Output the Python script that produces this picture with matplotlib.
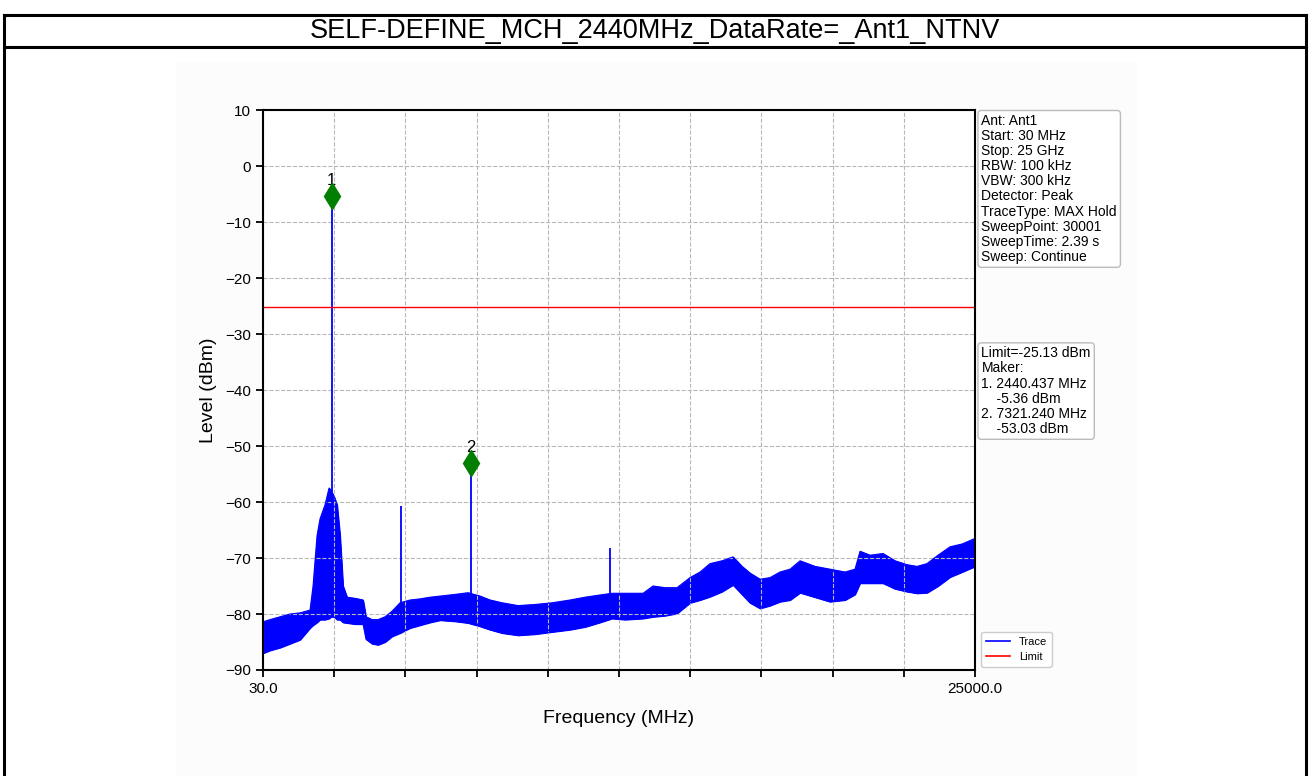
import matplotlib.pyplot as plt
from matplotlib.lines import Line2D
from matplotlib.patches import Rectangle
import numpy as np

plt.rcParams['font.family'] = ['Liberation Sans', 'DejaVu Sans']

# Colors used in the plot
BLUE = '#0000ff'
RED = '#ff0000'
GREEN = '#007f00'

START_MHZ = 30.0
STOP_MHZ = 25000.0
LIMIT_DBM = -25.13

TITLE = "SELF-DEFINE_MCH_2440MHz_DataRate=_Ant1_NTNV"

# Noise floor envelope of the max-hold trace (MHz, dBm)
freq_mhz = [30, 275, 626, 977, 1328, 1678, 1784, 1924, 2029, 2204, 2345, 2415,
            2520, 2625, 2730, 2836, 2976, 3256, 3537, 3642, 3853, 4063, 4309,
            4554, 4835, 5185, 5536, 5887, 6237, 6763, 7219, 7640, 7991, 8412,
            8973, 9569, 10165, 10796, 11323, 11849, 12269, 12725, 13357, 13707,
            14128, 14549, 15005, 15356, 15706, 16127, 16513, 16829, 17109, 17460,
            17811, 18161, 18512, 18863, 19389, 19915, 20441, 20791, 20967, 21318,
            21773, 22194, 22615, 22966, 23316, 23702, 24123, 24544, 25000]
floor_top = [-81.4, -81.0, -80.5, -80.0, -79.8, -79.3, -75.0, -66.0, -63.0, -60.5,
             -57.5, -58.0, -59.0, -60.5, -66.0, -75.0, -77.0, -77.2, -77.5, -80.5,
             -81.0, -81.0, -80.5, -79.5, -78.0, -77.5, -77.3, -77.0, -76.8, -76.5,
             -76.2, -76.8, -77.5, -78.0, -78.5, -78.3, -78.0, -77.5, -77.0, -76.6,
             -76.3, -76.3, -76.3, -75.0, -75.3, -75.3, -73.5, -72.5, -71.0, -70.5,
             -69.8, -71.5, -72.7, -73.8, -73.5, -72.5, -72.0, -70.5, -71.5, -72.0,
             -72.5, -72.0, -68.8, -69.5, -69.2, -70.5, -71.2, -71.5, -71.0, -69.5,
             -68.0, -67.5, -66.5]
floor_bottom = [-87.0, -86.5, -86.0, -85.3, -84.6, -82.5, -82.0, -81.5, -81.0, -81.0,
                -80.8, -80.5, -80.5, -81.0, -81.0, -81.5, -81.6, -81.8, -81.8, -84.5,
                -85.3, -85.5, -85.0, -84.0, -83.4, -82.5, -82.0, -81.5, -81.1, -81.3,
                -81.6, -82.2, -82.8, -83.4, -83.8, -83.6, -83.2, -82.8, -82.3, -81.5,
                -80.8, -81.0, -80.8, -80.5, -80.3, -79.9, -78.0, -77.5, -76.9, -76.0,
                -74.8, -76.5, -78.0, -79.0, -78.5, -77.8, -77.5, -76.2, -77.0, -77.8,
                -77.5, -76.5, -74.5, -74.5, -74.5, -75.5, -76.0, -76.3, -76.2, -75.0,
                -73.4, -72.5, -71.5]

# Discrete emissions rising out of the floor
spur_freq = [2440.437, 4880.0, 7321.240, 12200.0]
spur_base = [-80.5, -83.2, -81.6, -80.8]
spur_level = [-5.36, -60.8, -53.03, -68.3]

# Peak markers
marker_freq = [2440.437, 7321.240]
marker_level = [-5.36, -53.03]

info_lines = ["Ant: Ant1", "Start: 30 MHz", "Stop: 25 GHz", "RBW: 100 kHz",
              "VBW: 300 kHz", "Detector: Peak", "TraceType: MAX Hold",
              "SweepPoint: 30001", "SweepTime: 2.39 s", "Sweep: Continue"]

fig = plt.figure(figsize=(13.1, 7.76), dpi=100)

# faint backdrop of the embedded plot image
fig.add_artist(Rectangle((0.134, 0.0), 0.734, 0.92, transform=fig.transFigure,
                         facecolor='#fcfcfc', edgecolor='none', zorder=-10))

ax = fig.add_axes([0.2008, 0.1366, 0.5435, 0.7216])

# Trace: noise band plus spurs
ax.fill_between(freq_mhz, floor_bottom, floor_top, color=BLUE, linewidth=0.8)
ax.plot(freq_mhz, floor_top, color=BLUE, linewidth=0.8)
ax.plot(freq_mhz, floor_bottom, color=BLUE, linewidth=0.8)
ax.vlines(spur_freq, spur_base, spur_level, color=BLUE, linewidth=1.3)

# Limit line
ax.axhline(LIMIT_DBM, color=RED, linewidth=1.0)

# Markers
for i, (f, lvl) in enumerate(zip(marker_freq, marker_level)):
    ax.plot(f, lvl, marker='d', color=GREEN, markersize=13, zorder=5)
    ax.annotate(str(i + 1), (f, lvl), xytext=(0, 6), textcoords='offset points',
                ha='center', va='bottom', fontsize=12)

ax.set_xlim(START_MHZ, STOP_MHZ)
ax.set_ylim(-90, 10)
x_ticks = np.linspace(START_MHZ, STOP_MHZ, 11)
x_labels = [''] * 11
x_labels[0] = '30.0'
x_labels[-1] = '25000.0'
ax.set_xticks(x_ticks)
ax.set_xticklabels(x_labels)
ax.set_yticks(np.arange(-90, 11, 10))
ax.tick_params(labelsize=11, width=1.3, length=5)
for spine in ax.spines.values():
    spine.set_linewidth(1.5)
ax.grid(True, linestyle='--', color='#b8b8b8', linewidth=0.8)

ax.set_xlabel("Frequency (MHz)", fontsize=14, labelpad=10)
ax.set_ylabel("Level (dBm)", fontsize=14, labelpad=6)

box = dict(boxstyle='round,pad=0.25', facecolor='white', edgecolor='#bbbbbb', linewidth=1.0)
ax.text(1.009, 0.993, "\n".join(info_lines), transform=ax.transAxes, fontsize=10,
        va='top', ha='left', linespacing=1.1, bbox=box)

marker_lines = ["Limit=%.2f dBm" % LIMIT_DBM, "Maker:"]
for i, (f, lvl) in enumerate(zip(marker_freq, marker_level)):
    marker_lines.append("%d. %.3f MHz" % (i + 1, f))
    marker_lines.append("    %.2f dBm" % lvl)
ax.text(1.009, 0.578, "\n".join(marker_lines), transform=ax.transAxes, fontsize=10,
        va='top', ha='left', linespacing=1.1, bbox=box)

handles = [Line2D([], [], color=BLUE, linewidth=1.2), Line2D([], [], color=RED, linewidth=1.2)]
ax.legend(handles, ["Trace", "Limit"], loc='lower left', bbox_to_anchor=(1.004, 0.0),
          fontsize=8, handlelength=2.2, borderaxespad=0.3, framealpha=1, edgecolor='#cccccc')

# Page frame with title strip
fig.text(0.5, 0.96, TITLE, ha='center', va='center', fontsize=19.5)
frame = dict(color='black', linewidth=2.2, transform=fig.transFigure)
fig.add_artist(Line2D([0.003, 0.997], [0.981, 0.981], **frame))
fig.add_artist(Line2D([0.003, 0.997], [0.939, 0.939], **frame))
fig.add_artist(Line2D([0.003, 0.003], [0.0, 0.981], **frame))
fig.add_artist(Line2D([0.997, 0.997], [0.0, 0.981], **frame))

fig.savefig("out.png", dpi=100)
